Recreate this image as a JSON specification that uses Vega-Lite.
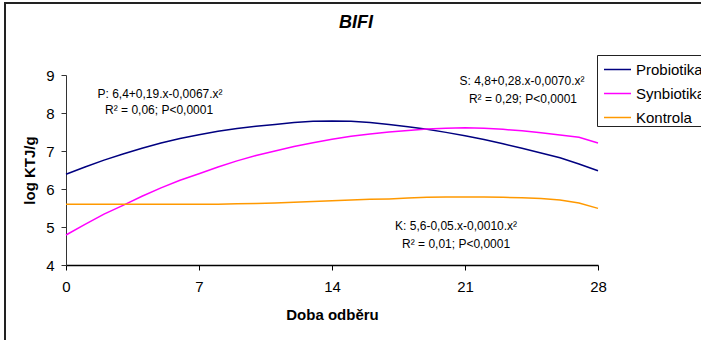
{
  "$schema": "https://vega.github.io/schema/vega-lite/v6.json",
  "width": 702,
  "height": 350,
  "autosize": {"type": "none"},
  "padding": {"left": 5, "top": 3, "right": 0, "bottom": 0},
  "background": "white",
  "title": {"text": "BIFI", "font": "Liberation Sans", "fontSize": 18, "fontWeight": "bold", "fontStyle": "italic", "color": "black", "anchor": "middle", "frame": "group", "offset": -29},
  "config": {"view": {"stroke": "#222222", "strokeWidth": 2}, "font": "Liberation Sans"},
  "datasets": {
    "series": [
      {"day": 0, "value": 6.39, "group": "Probiotika"},
      {"day": 1, "value": 6.58, "group": "Probiotika"},
      {"day": 2, "value": 6.76, "group": "Probiotika"},
      {"day": 3, "value": 6.92, "group": "Probiotika"},
      {"day": 4, "value": 7.07, "group": "Probiotika"},
      {"day": 5, "value": 7.21, "group": "Probiotika"},
      {"day": 6, "value": 7.33, "group": "Probiotika"},
      {"day": 7, "value": 7.43, "group": "Probiotika"},
      {"day": 8, "value": 7.52, "group": "Probiotika"},
      {"day": 9, "value": 7.59, "group": "Probiotika"},
      {"day": 10, "value": 7.65, "group": "Probiotika"},
      {"day": 11, "value": 7.70, "group": "Probiotika"},
      {"day": 12, "value": 7.75, "group": "Probiotika"},
      {"day": 13, "value": 7.78, "group": "Probiotika"},
      {"day": 14, "value": 7.79, "group": "Probiotika"},
      {"day": 15, "value": 7.78, "group": "Probiotika"},
      {"day": 16, "value": 7.75, "group": "Probiotika"},
      {"day": 17, "value": 7.70, "group": "Probiotika"},
      {"day": 18, "value": 7.64, "group": "Probiotika"},
      {"day": 19, "value": 7.57, "group": "Probiotika"},
      {"day": 20, "value": 7.49, "group": "Probiotika"},
      {"day": 21, "value": 7.40, "group": "Probiotika"},
      {"day": 22, "value": 7.30, "group": "Probiotika"},
      {"day": 23, "value": 7.19, "group": "Probiotika"},
      {"day": 24, "value": 7.07, "group": "Probiotika"},
      {"day": 25, "value": 6.95, "group": "Probiotika"},
      {"day": 26, "value": 6.82, "group": "Probiotika"},
      {"day": 27, "value": 6.66, "group": "Probiotika"},
      {"day": 28, "value": 6.48, "group": "Probiotika"},
      {"day": 0, "value": 4.79, "group": "Synbiotika"},
      {"day": 1, "value": 5.07, "group": "Synbiotika"},
      {"day": 2, "value": 5.34, "group": "Synbiotika"},
      {"day": 3, "value": 5.57, "group": "Synbiotika"},
      {"day": 4, "value": 5.81, "group": "Synbiotika"},
      {"day": 5, "value": 6.03, "group": "Synbiotika"},
      {"day": 6, "value": 6.23, "group": "Synbiotika"},
      {"day": 7, "value": 6.40, "group": "Synbiotika"},
      {"day": 8, "value": 6.58, "group": "Synbiotika"},
      {"day": 9, "value": 6.74, "group": "Synbiotika"},
      {"day": 10, "value": 6.88, "group": "Synbiotika"},
      {"day": 11, "value": 7.00, "group": "Synbiotika"},
      {"day": 12, "value": 7.12, "group": "Synbiotika"},
      {"day": 13, "value": 7.22, "group": "Synbiotika"},
      {"day": 14, "value": 7.31, "group": "Synbiotika"},
      {"day": 15, "value": 7.39, "group": "Synbiotika"},
      {"day": 16, "value": 7.45, "group": "Synbiotika"},
      {"day": 17, "value": 7.50, "group": "Synbiotika"},
      {"day": 18, "value": 7.54, "group": "Synbiotika"},
      {"day": 19, "value": 7.58, "group": "Synbiotika"},
      {"day": 20, "value": 7.60, "group": "Synbiotika"},
      {"day": 21, "value": 7.61, "group": "Synbiotika"},
      {"day": 22, "value": 7.60, "group": "Synbiotika"},
      {"day": 23, "value": 7.57, "group": "Synbiotika"},
      {"day": 24, "value": 7.53, "group": "Synbiotika"},
      {"day": 25, "value": 7.48, "group": "Synbiotika"},
      {"day": 26, "value": 7.42, "group": "Synbiotika"},
      {"day": 27, "value": 7.36, "group": "Synbiotika"},
      {"day": 28, "value": 7.21, "group": "Synbiotika"},
      {"day": 0, "value": 5.60, "group": "Kontrola"},
      {"day": 2, "value": 5.60, "group": "Kontrola"},
      {"day": 4, "value": 5.60, "group": "Kontrola"},
      {"day": 6, "value": 5.60, "group": "Kontrola"},
      {"day": 8, "value": 5.60, "group": "Kontrola"},
      {"day": 9, "value": 5.61, "group": "Kontrola"},
      {"day": 10, "value": 5.62, "group": "Kontrola"},
      {"day": 11, "value": 5.63, "group": "Kontrola"},
      {"day": 12, "value": 5.65, "group": "Kontrola"},
      {"day": 13, "value": 5.67, "group": "Kontrola"},
      {"day": 14, "value": 5.69, "group": "Kontrola"},
      {"day": 15, "value": 5.71, "group": "Kontrola"},
      {"day": 16, "value": 5.73, "group": "Kontrola"},
      {"day": 17, "value": 5.74, "group": "Kontrola"},
      {"day": 18, "value": 5.76, "group": "Kontrola"},
      {"day": 19, "value": 5.78, "group": "Kontrola"},
      {"day": 20, "value": 5.79, "group": "Kontrola"},
      {"day": 21, "value": 5.79, "group": "Kontrola"},
      {"day": 22, "value": 5.79, "group": "Kontrola"},
      {"day": 23, "value": 5.78, "group": "Kontrola"},
      {"day": 24, "value": 5.77, "group": "Kontrola"},
      {"day": 25, "value": 5.75, "group": "Kontrola"},
      {"day": 26, "value": 5.71, "group": "Kontrola"},
      {"day": 27, "value": 5.63, "group": "Kontrola"},
      {"day": 28, "value": 5.49, "group": "Kontrola"}
    ],
    "notes": [
      {"x": 4.95, "y": 8.5, "text": "P: 6,4+0,19.x-0,0067.x²"},
      {"x": 4.9, "y": 8.08, "text": "R² = 0,06; P<0,0001"},
      {"x": 24.0, "y": 8.84, "text": "S: 4,8+0,28.x-0,0070.x²"},
      {"x": 24.05, "y": 8.37, "text": "R² = 0,29; P<0,0001"},
      {"x": 20.53, "y": 5.03, "text": "K: 5,6-0,05.x-0,0010.x²"},
      {"x": 20.53, "y": 4.55, "text": "R² = 0,01; P<0,0001"}
    ]
  },
  "layer": [
    {
      "data": {"name": "series"},
      "mark": {"type": "line", "strokeWidth": 1.5, "clip": false},
      "encoding": {
        "x": {
          "field": "day", "type": "quantitative",
          "scale": {"domain": [0, 28], "range": [61, 593], "nice": false, "zero": false},
          "axis": {"values": [0, 7, 14, 21, 28], "format": "d", "offset": -88, "grid": false, "domainColor": "black", "domainWidth": 1.5, "tickColor": "black", "tickWidth": 1, "tickSize": 5, "labelFont": "Liberation Sans", "labelFontSize": 15, "labelColor": "black", "labelPadding": 9, "labelFlush": false, "title": "Doba odběru", "titleFont": "Liberation Sans", "titleFontSize": 15, "titleFontWeight": "bold", "titleColor": "black", "titleY": 49, "titleBaseline": "middle"}
        },
        "y": {
          "field": "value", "type": "quantitative",
          "scale": {"domain": [4, 9], "range": [262, 72], "nice": false, "zero": false},
          "axis": {"values": [4, 5, 6, 7, 8, 9], "format": "d", "offset": -61, "grid": false, "domainColor": "#333333", "domainWidth": 1, "tickColor": "#333333", "tickSize": 5, "labelFont": "Liberation Sans", "labelFontSize": 15, "labelColor": "black", "labelPadding": 7, "title": "log KTJ/g", "titleFont": "Liberation Sans", "titleFontSize": 15, "titleFontWeight": "bold", "titleColor": "black", "titleAngle": 270, "titleBaseline": "middle", "titleAlign": "center", "titleX": -37, "titleY": 167}
        },
        "color": {
          "field": "group", "type": "nominal",
          "scale": {"domain": ["Probiotika", "Synbiotika", "Kontrola"], "range": ["#000080", "#FF00FF", "#FF9900"]},
          "legend": {"orient": "none", "legendX": 592, "legendY": 52, "title": null, "symbolType": "stroke", "symbolSize": 729, "symbolStrokeWidth": 1.5, "symbolOffset": 6, "labelFont": "Liberation Sans", "labelFontSize": 15, "labelColor": "black", "labelOffset": 4, "strokeColor": "#222222", "fillColor": "white", "padding": 0, "rowPadding": 1}
        }
      }
    },
    {
      "data": {"name": "notes"},
      "mark": {"type": "text", "font": "Liberation Sans", "fontSize": 12, "align": "center", "baseline": "middle", "color": "black"},
      "encoding": {
        "x": {"field": "x", "type": "quantitative"},
        "y": {"field": "y", "type": "quantitative"},
        "text": {"field": "text"}
      }
    }
  ]
}
